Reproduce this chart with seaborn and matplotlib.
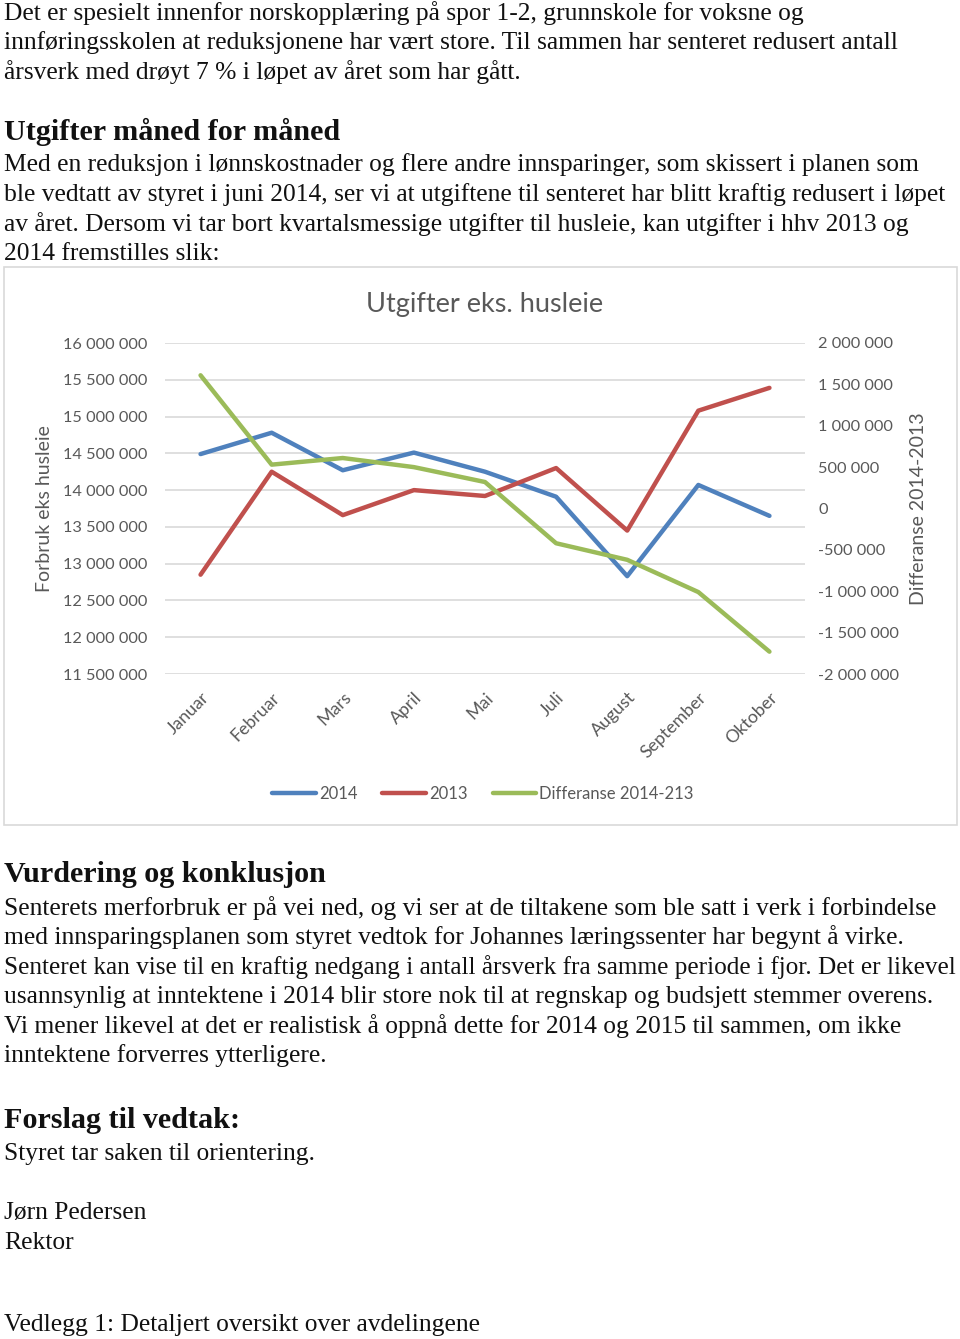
import matplotlib
matplotlib.use("Agg")
import matplotlib.pyplot as plt
from matplotlib.patches import Rectangle
from matplotlib.lines import Line2D
from matplotlib.ticker import FuncFormatter, MultipleLocator
import pandas as pd
import seaborn as sns

# data lest av grafen
maaneder = ["Januar", "Februar", "Mars", "April", "Mai", "Juli", "August", "September", "Oktober"]
utg_2014 = [14490000, 14780000, 14270000, 14510000, 14250000, 13910000, 12830000, 14070000, 13650000]
utg_2013 = [12850000, 14250000, 13660000, 14000000, 13920000, 14300000, 13450000, 15080000, 15390000]
differanse = [1610000, 530000, 610000, 500000, 320000, -420000, -620000, -1010000, -1730000]

serier = ["2014", "2013", "Differanse 2014-213"]
farger = ["#4F81BD", "#C0504D", "#9BBB59"]

# tekst paa siden
avsnitt_1 = ["Det er spesielt innenfor norskopplæring på spor 1-2, grunnskole for voksne og",
             "innføringsskolen at reduksjonene har vært store. Til sammen har senteret redusert antall",
             "årsverk med drøyt 7 % i løpet av året som har gått."]
avsnitt_2 = ["Med en reduksjon i lønnskostnader og flere andre innsparinger, som skissert i planen som",
             "ble vedtatt av styret i juni 2014, ser vi at utgiftene til senteret har blitt kraftig redusert i løpet",
             "av året. Dersom vi tar bort kvartalsmessige utgifter til husleie, kan utgifter i hhv 2013 og",
             "2014 fremstilles slik:"]
avsnitt_3 = ["Senterets merforbruk er på vei ned, og vi ser at de tiltakene som ble satt i verk i forbindelse",
             "med innsparingsplanen som styret vedtok for Johannes læringssenter har begynt å virke.",
             "Senteret kan vise til en kraftig nedgang i antall årsverk fra samme periode i fjor. Det er likevel",
             "usannsynlig at inntektene i 2014 blir store nok til at regnskap og budsjett stemmer overens.",
             "Vi mener likevel at det er realistisk å oppnå dette for 2014 og 2015 til sammen, om ikke",
             "inntektene forverres ytterligere."]

sns.set_theme(style="white")
plt.rcParams['font.family'] = ['Lato', 'DejaVu Sans']

W, H = 960, 1339
fig = plt.figure(figsize=(W / 100, H / 100), dpi=100)

serif = ['Liberation Serif', 'DejaVu Serif']
tekstfarge = "#111111"
grå = "#595959"
alle_tekster = []


def skriv(y, tekst, storrelse=18.4, fet=False):
    t = fig.text(4 / W, 1 - y / H, tekst, family=serif, fontsize=storrelse,
                 fontweight="bold" if fet else "normal", color=tekstfarge,
                 ha="left", va="center")
    alle_tekster.append(t)


def skriv_avsnitt(y0, linjer, steg=29.5):
    for i, l in enumerate(linjer):
        skriv(y0 + i * steg, l)


skriv_avsnitt(13, avsnitt_1)
skriv(132, "Utgifter måned for måned", 21.7, True)
skriv_avsnitt(165, avsnitt_2)
skriv(875, "Vurdering og konklusjon", 21.7, True)
skriv_avsnitt(908, avsnitt_3)
skriv(1121, "Forslag til vedtak:", 21.7, True)
skriv(1154, "Styret tar saken til orientering.")
skriv(1213, "Jørn Pedersen")
skriv(1243, "Rektor")
skriv(1325, "Vedlegg 1: Detaljert oversikt over avdelingene")

# ramme rundt grafen
fig.patches.append(Rectangle((4 / W, 1 - 825 / H), 953 / W, 558 / H, transform=fig.transFigure,
                             facecolor="white", edgecolor="#d9d9d9", linewidth=1.2, zorder=-10))

# grafen
ax = fig.add_axes([165 / W, 1 - 674 / H, 640 / W, 331 / H])
ax.set_facecolor("none")
df = pd.DataFrame({"mnd": range(len(maaneder)), "2014": utg_2014, "2013": utg_2013})
sns.lineplot(data=df, x="mnd", y="2014", ax=ax, color=farger[0], linewidth=3.2)
sns.lineplot(data=df, x="mnd", y="2013", ax=ax, color=farger[1], linewidth=3.2)
ax.set_xlim(-0.5, len(maaneder) - 0.5)
ax.set_ylim(11500000, 16000000)
ax.yaxis.set_major_locator(MultipleLocator(500000))
fmt = FuncFormatter(lambda v, p: f"{int(round(v)):,}".replace(",", " "))
ax.yaxis.set_major_formatter(fmt)
ax.grid(axis="y", color="#d9d9d9", linewidth=1.2)
ax.grid(axis="x", visible=False)
for s in ax.spines.values():
    s.set_visible(False)
ax.tick_params(axis="y", length=0, pad=13, labelsize=11.8, labelcolor=grå)
ax.set_xticks(range(len(maaneder)))
ax.set_xticklabels(maaneder, rotation=45, ha="right", va="top", rotation_mode="anchor")
ax.tick_params(axis="x", length=0, pad=11, labelsize=12.8, labelcolor=grå)
ax.set_xlabel("")
ax.set_ylabel("Forbruk eks husleie", fontsize=14, color=grå, labelpad=7)

ax2 = ax.twinx()
ax2.set_facecolor("none")
df2 = pd.DataFrame({"mnd": range(len(maaneder)), "diff": differanse})
sns.lineplot(data=df2, x="mnd", y="diff", ax=ax2, color=farger[2], linewidth=3.2)
ax2.set_ylim(-2000000, 2000000)
ax2.yaxis.set_major_locator(MultipleLocator(500000))
ax2.yaxis.set_major_formatter(fmt)
ax2.grid(False)
for s in ax2.spines.values():
    s.set_visible(False)
ax2.tick_params(axis="y", length=0, pad=9.5, labelsize=11.8, labelcolor=grå)
ax2.set_ylabel("Differanse 2014-2013", fontsize=14, color=grå, labelpad=8)
ax2.set_xlabel("")

ax.set_title("Utgifter eks. husleie", fontsize=19.5, color=grå, pad=22)

handles = [Line2D([0], [0], color=c, linewidth=3.2) for c in farger]
fig.legend(handles, serier, loc="center", bbox_to_anchor=(483 / W, 1 - 794 / H), ncol=3,
           frameon=False, fontsize=12, labelcolor=grå, handlelength=2.6,
           handletextpad=0.2, columnspacing=1.5)

# krymp linjer som gaar utenfor siden
fig.canvas.draw()
r = fig.canvas.get_renderer()
for t in alle_tekster:
    bb = t.get_window_extent(renderer=r)
    if bb.x1 > 955:
        t.set_fontsize(t.get_fontsize() * (955 - bb.x0) / bb.width)

fig.savefig("out.png", dpi=100)
